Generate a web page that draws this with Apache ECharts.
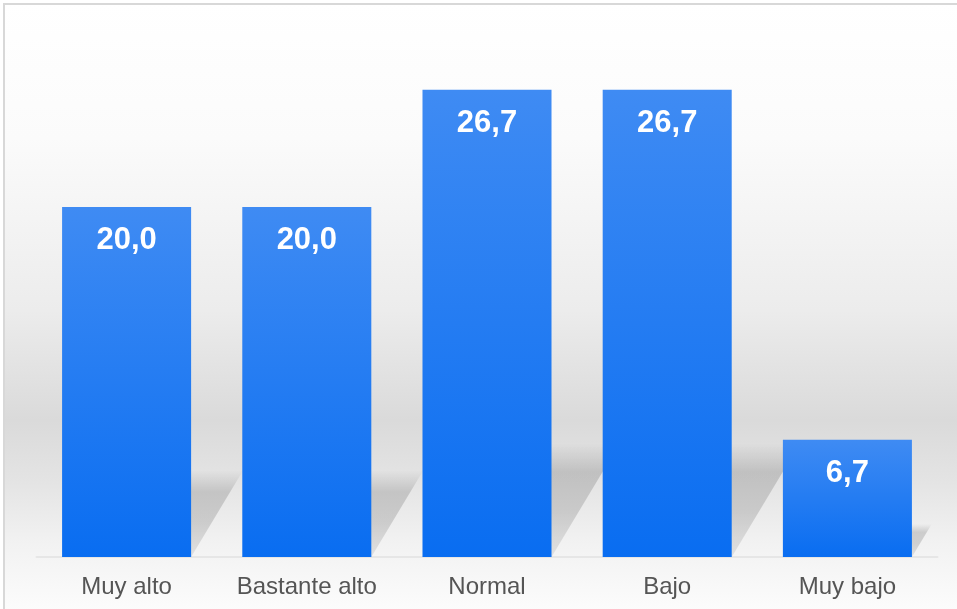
<!DOCTYPE html>
<html>
<head>
<meta charset="utf-8">
<style>
  html, body { margin: 0; padding: 0; background: #fff; }
  #chart { width: 957px; height: 609px; }
</style>
<script src="https://cdn.jsdelivr.net/npm/echarts@6/dist/echarts.min.js"></script>
</head>
<body>
<div id="chart"></div>
<script>
// datos
var categories = ['Muy alto', 'Bastante alto', 'Normal', 'Bajo', 'Muy bajo'];
var values = [20.0, 20.0, 26.7, 26.7, 6.7];
var yMax = 30;

var chart = echarts.init(document.getElementById('chart'));

var barGrad = new echarts.graphic.LinearGradient(0, 0, 0, 1, [
    { offset: 0, color: '#3f8bf3' },
    { offset: 1, color: '#096df1' }
]);

// sombra inclinada detras de cada barra
function renderShadow(params, api) {
    var x0 = api.coord([api.value(0), 0]);
    var x1 = api.coord([api.value(0), api.value(1)]);
    var w = api.size([1, 0])[0] * 0.716;
    var xl = x0[0] - w / 2, xr = x0[0] + w / 2;
    var y0 = x0[1];
    var hs = (y0 - x1[1]) * 0.23 + 6;
    var dx = hs * 0.6;
    return {
        type: 'polygon',
        shape: { points: [[xl, y0], [xr, y0], [xr + dx, y0 - hs], [xl + dx, y0 - hs]] },
        style: {
            fill: new echarts.graphic.LinearGradient(0, 0, 0, 1, [
                { offset: 0, color: 'rgba(0,0,0,0)' },
                { offset: 0.25, color: 'rgba(0,0,0,0.15)' },
                { offset: 0.6, color: 'rgba(0,0,0,0.14)' },
                { offset: 1, color: 'rgba(0,0,0,0.08)' }
            ])
        },
        silent: true
    };
}

var option = {
    animation: false,
    graphic: [{
        type: 'rect',
        z: -10,
        silent: true,
        shape: { x: 4, y: 4, width: 960, height: 612 },
        style: {
            fill: new echarts.graphic.LinearGradient(0, 0, 0, 1, [
                { offset: 0, color: '#ffffff' },
                { offset: 0.22, color: '#fbfbfb' },
                { offset: 0.5, color: '#ececec' },
                { offset: 0.68, color: '#dadada' },
                { offset: 0.78, color: '#e4e4e4' },
                { offset: 0.88, color: '#f2f2f2' },
                { offset: 1, color: '#fdfdfd' }
            ]),
            stroke: '#d8d8d8',
            lineWidth: 2
        }
    }],
    grid: { left: 36.5, right: 19.5, top: 32, bottom: 52 },
    xAxis: {
        type: 'category',
        data: categories,
        axisTick: { show: false },
        axisLine: { show: true, lineStyle: { color: '#e6e6e6', width: 2 } },
        axisLabel: {
            interval: 0,
            color: '#555555',
            fontFamily: 'Liberation Sans, Arial, sans-serif',
            fontSize: 24,
            margin: 18
        }
    },
    yAxis: {
        type: 'value',
        min: 0,
        max: yMax,
        show: false,
        splitLine: { show: false }
    },
    series: [{
        type: 'custom',
        z: 1,
        renderItem: renderShadow,
        data: values.map(function (v, i) { return [i, v]; })
    }, {
        type: 'bar',
        z: 3,
        data: values,
        barWidth: '71.6%',
        itemStyle: { color: barGrad },
        label: {
            show: true,
            position: 'insideTop',
            distance: 18,
            color: '#ffffff',
            fontWeight: 'bold',
            fontSize: 31,
            fontFamily: 'Liberation Sans, Arial, sans-serif',
            formatter: function (p) { return p.value.toFixed(1).replace('.', ','); }
        }
    }]
};

chart.setOption(option);
</script>
</body>
</html>
